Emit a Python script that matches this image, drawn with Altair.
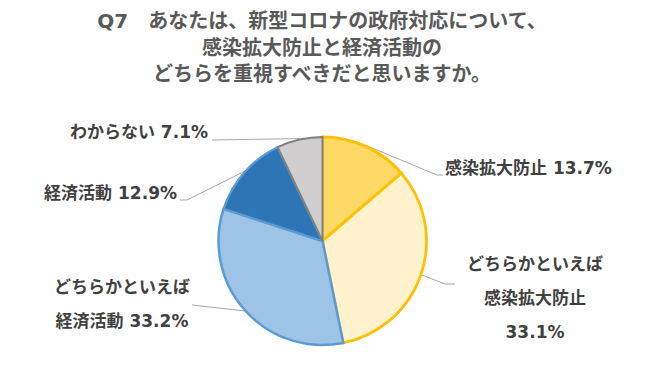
import math
import altair as alt
import pandas as pd

# ---- data ----
categories = ["感染拡大防止", "どちらかといえば感染拡大防止", "どちらかといえば経済活動", "経済活動", "わからない"]
values = [13.7, 33.1, 33.2, 12.9, 7.1]
label_texts = [
    "感染拡大防止 13.7%",
    "どちらかといえば\n感染拡大防止\n33.1%",
    "どちらかといえば\n経済活動 33.2%",
    "経済活動 12.9%",
    "わからない 7.1%",
]
title_text = "Q7　あなたは、新型コロナの政府対応について、\n感染拡大防止と経済活動の\nどちらを重視すべきだと思いますか。"

# ---- styles ----
fills = ["#FFD966", "#FFF2CC", "#9DC3E6", "#2E75B6", "#D0CECE"]
strokes = ["#FFC000", "#FFC000", "#5B9BD5", "#5B9BD5", "#808080"]
stroke_widths = [3, 2, 4, 3, 2]
FONT = "DejaVu Sans, Noto Sans CJK JP"

# ---- layout (page pixels, converted to plot-area pixels below) ----
PAD_T = 4
OX, OY = 8, 8 + PAD_T
W, H = 641, 349 - PAD_T
CX, CY, R = 322.5 - OX, 237 - OY, 104
# (x, y of first line, align)
label_pos_page = [(445, 165, "left"), (535, 261, "center"), (122, 284, "center"), (177, 190, "right"), (208, 129, "right")]
leader_tail_page = [[(437, 171), (443, 171)], [(445, 280), (455, 280)], [(192, 301)], [(187, 196), (180, 196)], [(212, 136)]]

label_pos = [(x - OX, y - OY, a) for x, y, a in label_pos_page]
leader_tail = [[(x - OX, y - OY) for x, y in seg] for seg in leader_tail_page]

pie_df = pd.DataFrame({"cat": categories, "value": values, "idx": list(range(len(values)))})

lab_df = pd.DataFrame({
    "label": label_texts,
    "x": [p[0] for p in label_pos],
    "y": [p[1] for p in label_pos],
    "align": [p[2] for p in label_pos],
})

# leader lines: start at the mid-angle of each slice on the rim
total = sum(values)
rows = []
cum = 0.0
for i, v in enumerate(values):
    ang = 2 * math.pi * (cum + v / 2) / total
    cum += v
    pts = [(CX + (R + 1) * math.sin(ang), CY - (R + 1) * math.cos(ang))] + leader_tail[i]
    for j, (px, py) in enumerate(pts):
        rows.append({"slice": i, "k": j, "x": px, "y": py})
line_df = pd.DataFrame(rows)

pie = alt.Chart(pie_df).mark_arc(outerRadius=R).encode(
    theta=alt.Theta("value:Q", stack=True),
    order=alt.Order("idx:Q"),
    fill=alt.Fill("cat:N", scale=alt.Scale(domain=categories, range=fills), legend=None),
    stroke=alt.Stroke("cat:N", scale=alt.Scale(domain=categories, range=strokes), legend=None),
    strokeWidth=alt.StrokeWidth("cat:O", scale=alt.Scale(domain=categories, range=stroke_widths), legend=None),
    x=alt.value(CX),
    y=alt.value(CY),
)

lines = alt.Chart(line_df).mark_line(color="#A6A6A6", strokeWidth=1).encode(
    x=alt.X("x:Q", scale=None, axis=None),
    y=alt.Y("y:Q", scale=None, axis=None),
    detail="slice:N",
    order="k:Q",
)

def label_layer(al):
    return alt.Chart(lab_df).transform_filter(alt.datum.align == al).mark_text(
        font=FONT, fontSize=17, fontWeight="bold", color="#404040",
        align=al, baseline="middle", lineBreak="\n", lineHeight=34,
    ).encode(
        x=alt.X("x:Q", scale=None, axis=None),
        y=alt.Y("y:Q", scale=None, axis=None),
        text="label:N",
    )

title = alt.Chart(pd.DataFrame({"t": [title_text]})).mark_text(
    font=FONT, fontSize=20, fontWeight="bold", color="#595959",
    align="center", baseline="middle", lineBreak="\n", lineHeight=26.5,
).encode(x=alt.value(322 - OX), y=alt.value(18 - OY), text="t:N")

chart = alt.layer(
    lines, pie, label_layer("left"), label_layer("center"), label_layer("right"), title
).properties(
    width=W, height=H, padding={"left": 0, "right": 0, "top": PAD_T, "bottom": 0}
).configure_view(stroke=None)

chart.save("out.html", embed_options={"renderer": "svg", "actions": False})
